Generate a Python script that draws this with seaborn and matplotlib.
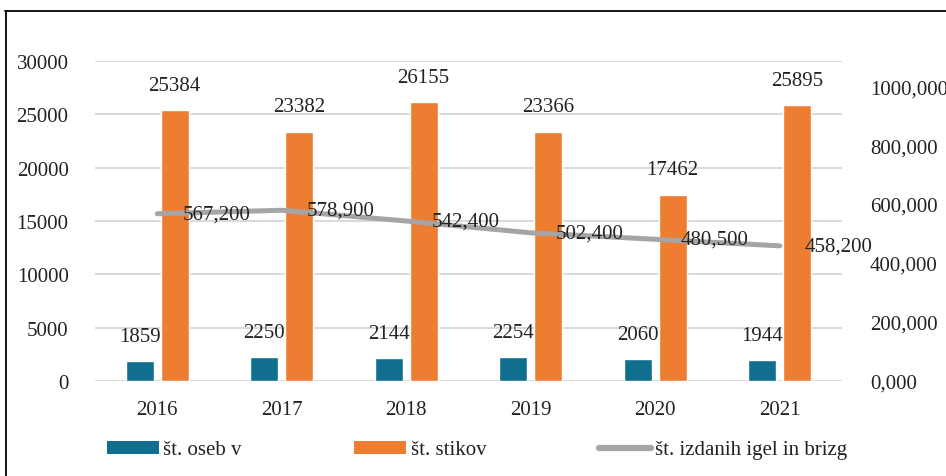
"""Slovenian harm-reduction chart: persons, contacts, needles issued."""

import matplotlib.pyplot as plt
import numpy as np
import pandas as pd
import seaborn as sns
from matplotlib.lines import Line2D
from matplotlib.patches import Patch

years = ["2016", "2017", "2018", "2019", "2020", "2021"]
persons = [1859, 2250, 2144, 2254, 2060, 1944]
contacts = [25384, 23382, 26155, 23366, 17462, 25895]
needles_thousands = [567.2, 578.9, 542.4, 502.4, 480.5, 458.2]

label_persons = "št. oseb v"
label_contacts = "št. stikov"
label_needles = "št. izdanih igel in brizg"

left_ticks = [0, 5000, 10000, 15000, 20000, 25000, 30000]
right_ticks = [0, 200, 400, 600, 800, 1000]

BLUE = "#106E8E"
ORANGE = "#ED7D31"
GRAY = "#A5A5A5"
FS = 15


def fmt_dec(v):
    return f"{v:.3f}".replace(".", ",")


sns.set_style("white")
plt.rcParams["font.family"] = ["Liberation Serif", "DejaVu Serif"]

df = pd.DataFrame({
    "Year": years * 2,
    "Value": persons + contacts,
    "Series": [label_persons] * len(years) + [label_contacts] * len(years),
})

fig = plt.figure(figsize=(9.46, 4.77), dpi=100)
ax = fig.add_axes([95 / 946, 95 / 477, 747 / 946, 320 / 477])

sns.barplot(data=df, x="Year", y="Value", hue="Series", order=years,
            hue_order=[label_persons, label_contacts],
            palette=[BLUE, ORANGE], width=0.56, gap=0.2,
            saturation=1, legend=False, ax=ax)

for cont in ax.containers:
    ax.bar_label(cont, labels=[str(int(b.get_height())) for b in cont],
                 padding=11, fontsize=FS, color="#222222")

ax.set_xlim(-0.5, 5.5)
ax.set_ylim(0, 30000)
ax.set_yticks(left_ticks)
ax.set_yticklabels([str(t) for t in left_ticks])
ax.yaxis.grid(True, color="#D9D9D9", linewidth=1.4)
ax.set_axisbelow(True)
ax.set_xlabel("")
ax.set_ylabel("")
ax.tick_params(axis="y", length=0, pad=19, labelsize=FS, colors="#222222")
ax.tick_params(axis="x", length=0, pad=14, labelsize=FS, colors="#222222")
sns.despine(ax=ax, left=True, bottom=True)

ax2 = ax.twinx()
sns.lineplot(x=np.arange(len(years)), y=needles_thousands, ax=ax2,
             color=GRAY, linewidth=3.6, sort=False)
for i, v in enumerate(needles_thousands):
    ax2.annotate(fmt_dec(v), (i, v), xytext=(18, 0), textcoords="offset points",
                 ha="left", va="center", fontsize=FS, color="#222222")
ax2.set_ylim(0, 1085)
ax2.set_yticks(right_ticks)
ax2.set_yticklabels([fmt_dec(t) for t in right_ticks])
ax2.tick_params(axis="y", length=0, pad=20, labelsize=FS, colors="#222222")
ax2.set_ylabel("")
for s in ax2.spines.values():
    s.set_visible(False)
ax.set_xlim(-0.5, 5.5)

handles = [
    Patch(facecolor=BLUE, edgecolor="none"),
    Patch(facecolor=ORANGE, edgecolor="none"),
    Line2D([0], [0], color=GRAY, linewidth=4.5, solid_capstyle="round"),
]
fig.legend(handles, [label_persons, label_contacts, label_needles],
           loc="center", bbox_to_anchor=(477 / 946, 26 / 477), ncol=3,
           frameon=False, fontsize=FS, handlelength=2.5, handleheight=0.6,
           handletextpad=0.2, columnspacing=5.4, labelcolor="#222222")

# outer chart frame (cropped on the right and bottom)
fig.add_artist(Line2D([5.5 / 946, 5.5 / 946], [0, 465 / 477],
                      color="black", linewidth=1.3, transform=fig.transFigure))
fig.add_artist(Line2D([5 / 946, 1], [465 / 477, 465 / 477],
                      color="black", linewidth=1.3, transform=fig.transFigure))

fig.savefig("out.png", dpi=100)
